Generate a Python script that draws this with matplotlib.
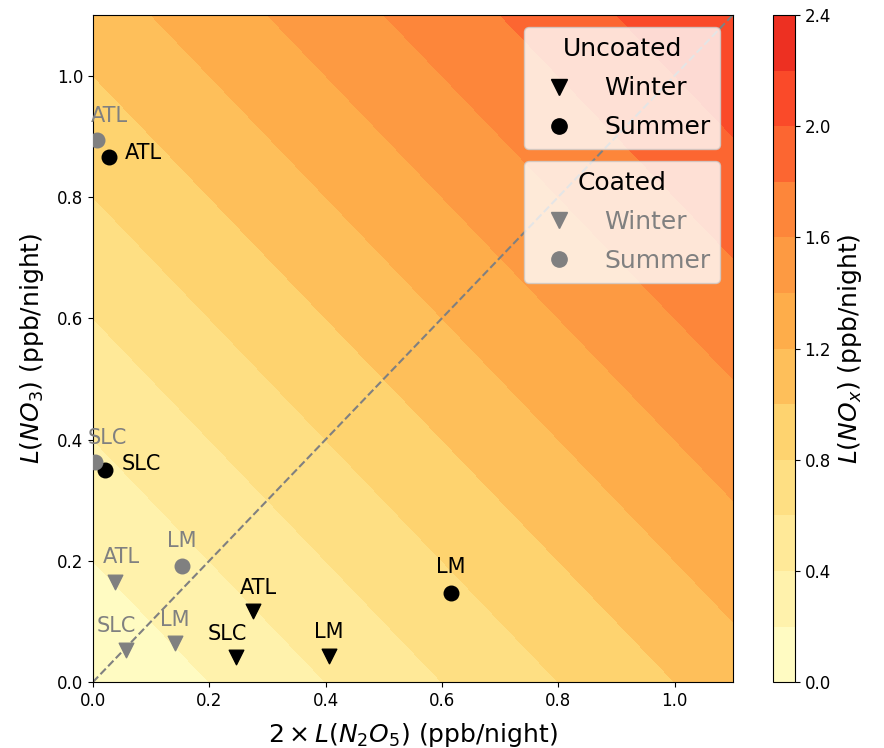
import numpy as np
import matplotlib
matplotlib.use("Agg")
import matplotlib.pyplot as plt
from matplotlib.colors import Normalize
from matplotlib.lines import Line2D

# Data
sites = ["ATL", "SLC", "LM"]
unc_summer_x = [0.028, 0.021, 0.615]
unc_summer_y = [0.866, 0.350, 0.147]
unc_winter_x = [0.275, 0.246, 0.406]
unc_winter_y = [0.117, 0.041, 0.043]
coa_summer_x = [0.007, 0.003, 0.153]
coa_summer_y = [0.894, 0.363, 0.191]
coa_winter_x = [0.038, 0.057, 0.141]
coa_winter_y = [0.165, 0.053, 0.064]
levels = np.arange(0, 2.41, 0.2)
cbar_ticks = [0.0, 0.4, 0.8, 1.2, 1.6, 2.0, 2.4]
axis_ticks = [0, 0.2, 0.4, 0.6, 0.8, 1.0]

# label offsets in points (style)
unc_summer_off = [(11, 3, 'left'), (12, 4, 'left'), (0, 19, 'center')]
unc_winter_off = [(4, 17, 'center'), (-6, 17, 'center'), (0, 17, 'center')]
coa_summer_off = [(9, 17, 'center'), (9, 17, 'center'), (0, 18, 'center')]
coa_winter_off = [(5, 18, 'center'), (-7, 17, 'center'), (0, 17, 'center')]

fig = plt.figure(figsize=(8.84, 7.48), dpi=100)
ax = fig.add_axes([0.105, 0.088, 0.724, 0.892])
cax = fig.add_axes([0.874, 0.088, 0.025, 0.892])

g = np.linspace(0, 1.1, 300)
X, Y = np.meshgrid(g, g)
Z = X + Y
cf = ax.contourf(X, Y, Z, levels=levels, cmap="YlOrRd", norm=Normalize(0, 3.3))
cb = fig.colorbar(cf, cax=cax, ticks=cbar_ticks)
cb.set_label(r"$L(NO_x)$ (ppb/night)", fontsize=18)
cb.ax.tick_params(labelsize=12)

ax.plot([0, 1.1], [0, 1.1], ls="--", color="gray", lw=1.5, zorder=2)

ms = 110
ax.scatter(unc_winter_x, unc_winter_y, marker="v", s=ms, color="black", zorder=3)
ax.scatter(unc_summer_x, unc_summer_y, marker="o", s=ms, color="black", zorder=3)
ax.scatter(coa_winter_x, coa_winter_y, marker="v", s=ms, color="gray", zorder=3)
ax.scatter(coa_summer_x, coa_summer_y, marker="o", s=ms, color="gray", zorder=3)

def lab(xs, ys, offs, color):
    for s, x, y, (dx, dy, ha) in zip(sites, xs, ys, offs):
        ax.annotate(s, (x, y), xytext=(dx, dy), textcoords="offset points",
                    ha=ha, va="center", fontsize=15, color=color, zorder=4)

lab(unc_summer_x, unc_summer_y, unc_summer_off, "black")
lab(unc_winter_x, unc_winter_y, unc_winter_off, "black")
lab(coa_summer_x, coa_summer_y, coa_summer_off, "gray")
lab(coa_winter_x, coa_winter_y, coa_winter_off, "gray")

ax.set_xlim(0, 1.1)
ax.set_ylim(0, 1.1)
ax.set_xticks(axis_ticks)
ax.set_yticks(axis_ticks)
ax.tick_params(labelsize=12)
ax.set_xlabel(r"$2 \times L(N_2O_5)$ (ppb/night)", fontsize=18, labelpad=8)
ax.set_ylabel(r"$L(NO_3)$ (ppb/night)", fontsize=18, labelpad=8)

h1 = [Line2D([], [], marker="v", ls="", color="black", markersize=11),
      Line2D([], [], marker="o", ls="", color="black", markersize=11)]
h2 = [Line2D([], [], marker="v", ls="", color="gray", markersize=11),
      Line2D([], [], marker="o", ls="", color="gray", markersize=11)]
leg1 = ax.legend(h1, ["Winter", "Summer"], title="Uncoated", loc="upper right",
                 fontsize=18, title_fontsize=18, labelspacing=0.6)
ax.add_artist(leg1)
leg2 = ax.legend(h2, ["Winter", "Summer"], title="Coated", loc="upper right",
                 bbox_to_anchor=(1.0, 0.80), fontsize=18, title_fontsize=18,
                 labelcolor="gray", labelspacing=0.6)

fig.savefig("out.png", dpi=100)
